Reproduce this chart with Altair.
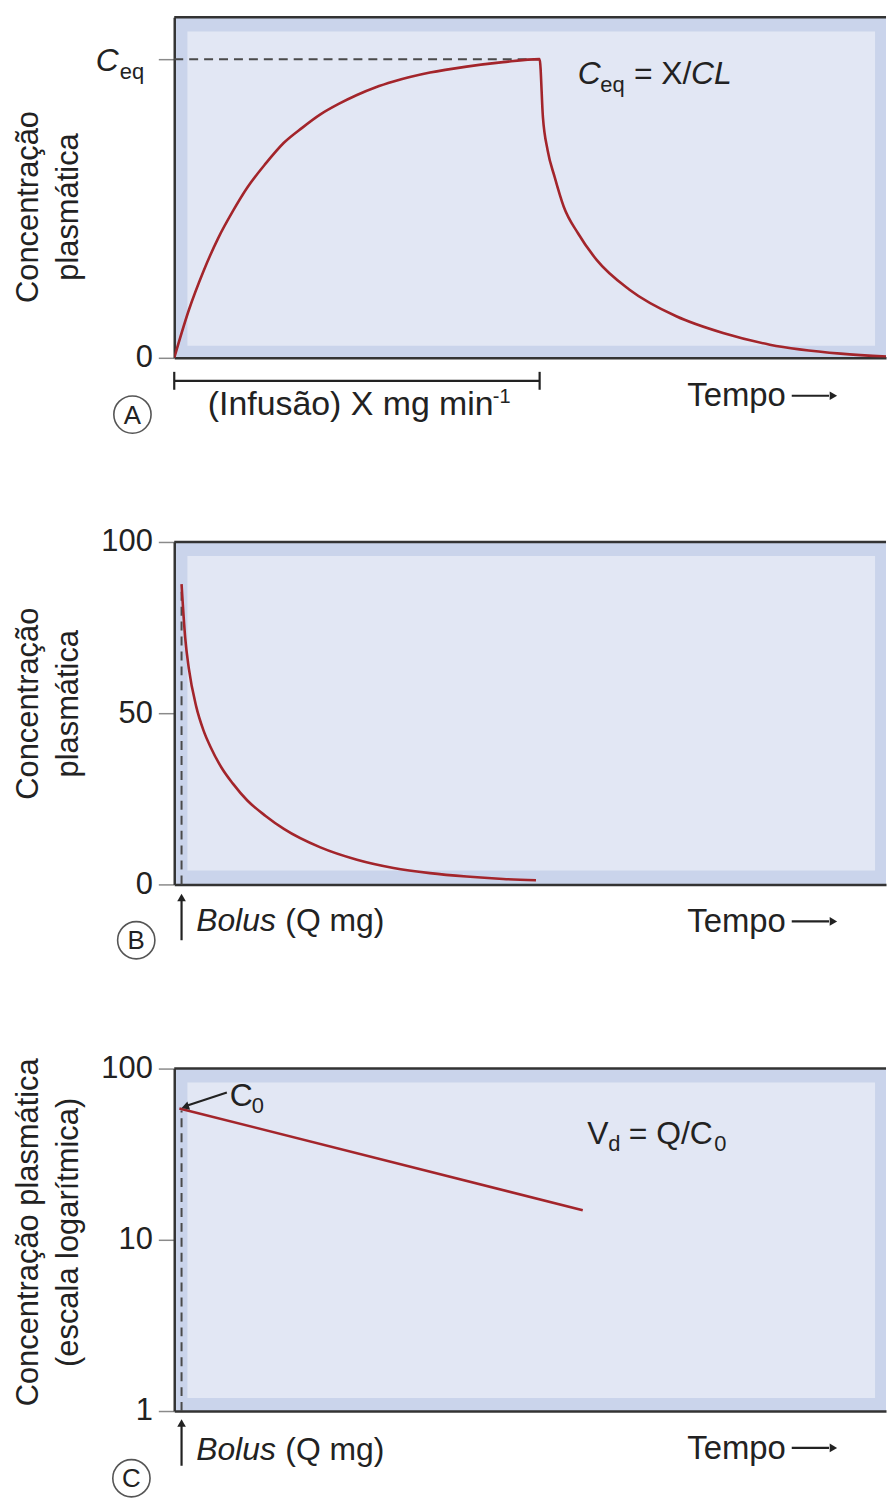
import altair as alt
import pandas as pd

FONT = "Liberation Sans"
RED = "#a3252b"
OUTER = "#cad4eb"
INNER = "#e2e7f4"
INK = "#222222"
FRAME = "#333333"
T_MAX = 97.4
PLOT_W = 715

# ---------------- data ----------------
# Panel A: infusion (concentration as fraction of C_eq)
a_time = [0, 2, 4, 6, 8, 10, 12.5, 15, 17.5, 20, 22.5, 25, 27.5, 30, 35, 40, 45, 50,
          50.45, 51.1, 52.05, 53.3, 55.25, 57.8, 62.3, 68.7, 75.1, 81.5, 91.2, 98.7]
a_conc = [0, 0.16, 0.29, 0.40, 0.49, 0.57, 0.65, 0.72, 0.77, 0.815, 0.85, 0.88, 0.905, 0.925,
          0.955, 0.975, 0.99, 1.0,
          0.806, 0.694, 0.606, 0.506, 0.417, 0.328, 0.228, 0.139, 0.083, 0.044, 0.014, 0.003]
a_infusion_end = 50

# Panel B: bolus, linear scale
b_time = [1.0, 1.5, 2, 3, 4, 5, 6.5, 8, 10, 12.5, 15, 20, 25, 30, 35, 40, 45, 49.5]
b_conc = [87.7, 72, 63, 52, 45, 40, 34, 29.5, 24.5, 20, 16.2, 10.8, 7.2, 4.8, 3.3, 2.3, 1.6, 1.2]

# Panel C: bolus, log scale
c_time = [0.7, 55.9]
c_conc = [58.5, 14.9]

a_ticks = [0, 1]
b_ticks = [0, 50, 100]
c_ticks = [1, 10, 100]

A_MAX = 1.14
xsc = alt.Scale(domain=[0, T_MAX], nice=False, zero=False)
xax = alt.Axis(labels=False, ticks=False, grid=False, title=None, domain=True,
               domainColor=FRAME, domainWidth=2.5)


def yaxis(values, title, title_y, label_expr=None, fmt=None):
    kw = dict(values=values, grid=False, tickSize=16, tickColor="#8a8a8a", tickWidth=1.5,
              domainColor=FRAME, domainWidth=2.5, labelFont=FONT, labelFontSize=31,
              labelColor=INK, labelPadding=6, title=title, titleFont=FONT,
              titleFontSize=31, titleFontWeight="normal", titleColor=INK,
              titleAngle=-90, titleAlign="center", titleBaseline="top",
              titleX=-161, titleY=title_y, titleLineHeight=40, labelFlush=False,
              labelOverlap=False)
    if label_expr:
        kw["labelExpr"] = label_expr
    if fmt:
        kw["format"] = fmt
    return alt.Axis(**kw)


def panel(ysc, yax, lo_hi, line_df, line_interp, rules, dashed, texts, tris, circle, height, ymax):
    layers = []
    # inner lighter panel
    layers.append(alt.Chart(pd.DataFrame({"a": [0]})).mark_rect(color=INNER).encode(
        x=alt.XDatum(1.8, scale=xsc, axis=xax), x2=alt.X2Datum(95.9),
        y=alt.YDatum(lo_hi[0], scale=ysc, axis=yax), y2=alt.Y2Datum(lo_hi[1])))
    # top frame
    layers.append(alt.Chart(pd.DataFrame({"a": [0]})).mark_rule(color=FRAME, strokeWidth=2.5).encode(
        x=alt.XDatum(0, scale=xsc, axis=xax), x2=alt.X2Datum(T_MAX),
        y=alt.YDatum(ymax, scale=ysc, axis=yax)))
    # dashed guides
    if dashed is not None and len(dashed):
        layers.append(alt.Chart(dashed).mark_rule(color="#4a4a4a", strokeWidth=2,
                                                  strokeDash=[9, 6]).encode(
            x=alt.X("x:Q", scale=xsc, axis=xax), x2="x2:Q",
            y=alt.Y("y:Q", scale=ysc, axis=yax), y2="y2:Q"))
    # solid annotation rules
    if rules is not None and len(rules):
        layers.append(alt.Chart(rules).mark_rule(color="#222222", strokeWidth=2.2).encode(
            x=alt.X("x:Q", scale=xsc, axis=xax), x2="x2:Q",
            y=alt.Y("y:Q", scale=ysc, axis=yax), y2="y2:Q"))
    # curve
    layers.append(alt.Chart(line_df).mark_line(color=RED, strokeWidth=2.6, interpolate=line_interp,
                                               clip=True).encode(
        x=alt.X("t:Q", scale=xsc, axis=xax),
        y=alt.Y("c:Q", scale=ysc, axis=yax)))
    # arrow heads
    for shape, sub in tris.groupby("shape"):
        layers.append(alt.Chart(sub).mark_point(shape=shape, filled=True, color="#222222",
                                                size=75, opacity=1).encode(
            x=alt.X("x:Q", scale=xsc, axis=xax), y=alt.Y("y:Q", scale=ysc, axis=yax),
            angle=alt.Angle("ang:Q", scale=None)))
    # circled letter
    layers.append(alt.Chart(circle).mark_point(shape="circle", size=1400, fill="white",
                                               fillOpacity=1, stroke="#555555",
                                               strokeWidth=1.6, opacity=1).encode(
        x=alt.X("x:Q", scale=xsc, axis=xax), y=alt.Y("y:Q", scale=ysc, axis=yax)))
    layers.append(alt.Chart(circle).mark_text(font=FONT, fontSize=26, color=INK,
                                              baseline="middle", align="center", dy=1).encode(
        x=alt.X("x:Q", scale=xsc, axis=xax), y=alt.Y("y:Q", scale=ysc, axis=yax),
        text="text:N"))
    # texts
    for (style, align), sub in texts.groupby(["style", "align"]):
        layers.append(alt.Chart(sub).mark_text(font=FONT, fontStyle=style, align=align,
                                               baseline="alphabetic", color=INK).encode(
            x=alt.X("x:Q", scale=xsc, axis=xax), y=alt.Y("y:Q", scale=ysc, axis=yax),
            text="text:N", size=alt.Size("size:Q", scale=None, legend=None)))
    return alt.layer(*layers).properties(width=PLOT_W, height=height)


# ---------------- Panel A ----------------
ysA = alt.Scale(domain=[0, A_MAX], nice=False, zero=False)
yaA = yaxis(a_ticks, ["Concentração", "plasmática"], 190,
            label_expr="datum.value == 0 ? '0' : ''")
lineA = pd.DataFrame({"t": a_time, "c": a_conc})
dashA = pd.DataFrame({"x": [0], "x2": [a_infusion_end], "y": [1.0], "y2": [1.0]})
rulesA = pd.DataFrame({
    "x": [0, 0, a_infusion_end, 84.5],
    "x2": [a_infusion_end, 0, a_infusion_end, 89.6],
    "y": [-0.077, -0.047, -0.047, -0.127],
    "y2": [-0.077, -0.107, -0.107, -0.127],
})
textsA = pd.DataFrame([
    {"x": -7.6, "y": 0.96, "text": "C", "size": 32, "style": "italic", "align": "right"},
    {"x": -7.45, "y": 0.933, "text": "eq", "size": 22, "style": "normal", "align": "left"},
    {"x": 55.2, "y": 0.917, "text": "C", "size": 32, "style": "italic", "align": "left"},
    {"x": 58.3, "y": 0.89, "text": "eq", "size": 22, "style": "normal", "align": "left"},
    {"x": 62.9, "y": 0.917, "text": "= X/", "size": 32, "style": "normal", "align": "left"},
    {"x": 70.7, "y": 0.917, "text": "CL", "size": 32, "style": "italic", "align": "left"},
    {"x": 4.6, "y": -0.19, "text": "(Infusão) X mg min", "size": 34, "style": "normal", "align": "left"},
    {"x": 43.6, "y": -0.152, "text": "-1", "size": 20, "style": "normal", "align": "left"},
    {"x": 70.2, "y": -0.16, "text": "Tempo", "size": 33, "style": "normal", "align": "left"},
])
trisA = pd.DataFrame({"x": [90.2], "y": [-0.127], "shape": ["triangle-right"], "ang": [0]})
circA = pd.DataFrame({"x": [-5.72], "y": [-0.19], "text": ["A"]})
chartA = panel(ysA, yaA, (0.04, 1.093), lineA, "monotone", rulesA, dashA, textsA, trisA, circA, 342, A_MAX)

# ---------------- Panel B ----------------
ysB = alt.Scale(domain=[0, 100], nice=False, zero=False)
yaB = yaxis(b_ticks, ["Concentração", "plasmática"], 162)
lineB = pd.DataFrame({"t": b_time, "c": b_conc})
dashB = pd.DataFrame({"x": [1.0], "x2": [1.0], "y": [0], "y2": [87]})
rulesB = pd.DataFrame({
    "x": [1.0, 84.5], "x2": [1.0, 89.6], "y": [-16.3, -10.8], "y2": [-4.6, -10.8],
})
textsB = pd.DataFrame([
    {"x": 3.0, "y": -13.7, "text": "Bolus", "size": 32, "style": "italic", "align": "left"},
    {"x": 15.2, "y": -13.7, "text": "(Q mg)", "size": 32, "style": "normal", "align": "left"},
    {"x": 70.2, "y": -14.0, "text": "Tempo", "size": 33, "style": "normal", "align": "left"},
])
trisB = pd.DataFrame({"x": [1.0, 90.2], "y": [-3.8, -10.8],
                      "shape": ["triangle-up", "triangle-right"], "ang": [0, 0]})
circB = pd.DataFrame({"x": [-5.2], "y": [-16.3], "text": ["B"]})
chartB = panel(ysB, yaB, (4.07, 95.9), lineB, "monotone", rulesB, dashB, textsB, trisB, circB, 344, 100)

# ---------------- Panel C ----------------
ysC = alt.Scale(type="log", domain=[1, 100], nice=False, zero=False)
yaC = yaxis(c_ticks, ["Concentração plasmática", "(escala logarítmica)"], 164, fmt="d")
lineC = pd.DataFrame({"t": c_time, "c": c_conc})
dashC = pd.DataFrame({"x": [1.0], "x2": [1.0], "y": [1.0], "y2": [57]})
rulesC = pd.DataFrame({
    "x": [1.0, 84.5, 7.2], "x2": [1.0, 89.6, 1.9],
    "y": [0.479, 0.609, 72.5], "y2": [0.818, 0.609, 61.0],
})
textsC = pd.DataFrame([
    {"x": 7.6, "y": 60.1, "text": "C", "size": 32, "style": "normal", "align": "left"},
    {"x": 10.6, "y": 54.8, "text": "0", "size": 22, "style": "normal", "align": "left"},
    {"x": 56.5, "y": 36.2, "text": "V", "size": 32, "style": "normal", "align": "left"},
    {"x": 59.4, "y": 32.9, "text": "d", "size": 22, "style": "normal", "align": "left"},
    {"x": 62.2, "y": 36.2, "text": "= Q/C", "size": 32, "style": "normal", "align": "left"},
    {"x": 73.9, "y": 32.9, "text": "0", "size": 22, "style": "normal", "align": "left"},
    {"x": 3.0, "y": 0.519, "text": "Bolus", "size": 32, "style": "italic", "align": "left"},
    {"x": 15.2, "y": 0.519, "text": "(Q mg)", "size": 32, "style": "normal", "align": "left"},
    {"x": 70.2, "y": 0.526, "text": "Tempo", "size": 33, "style": "normal", "align": "left"},
])
trisC = pd.DataFrame({"x": [1.0, 90.2, 1.5], "y": [0.852, 0.609, 59.8],
                      "shape": ["triangle-up", "triangle-right", "triangle-left"],
                      "ang": [0, 0, 342]})
circC = pd.DataFrame({"x": [-5.86], "y": [0.405], "text": ["C"]})
chartC = panel(ysC, yaC, (1.19, 82.9), lineC, "linear", rulesC, dashC, textsC, trisC, circC, 344, 100)

chart = alt.vconcat(chartA, chartB, chartC, spacing=185, bounds="flush").properties(
    padding={"left": 4, "top": 4, "right": 0, "bottom": 0}
).configure_view(fill=OUTER, stroke=None)

chart.save("out.html", embed_options={"renderer": "svg", "actions": False})
